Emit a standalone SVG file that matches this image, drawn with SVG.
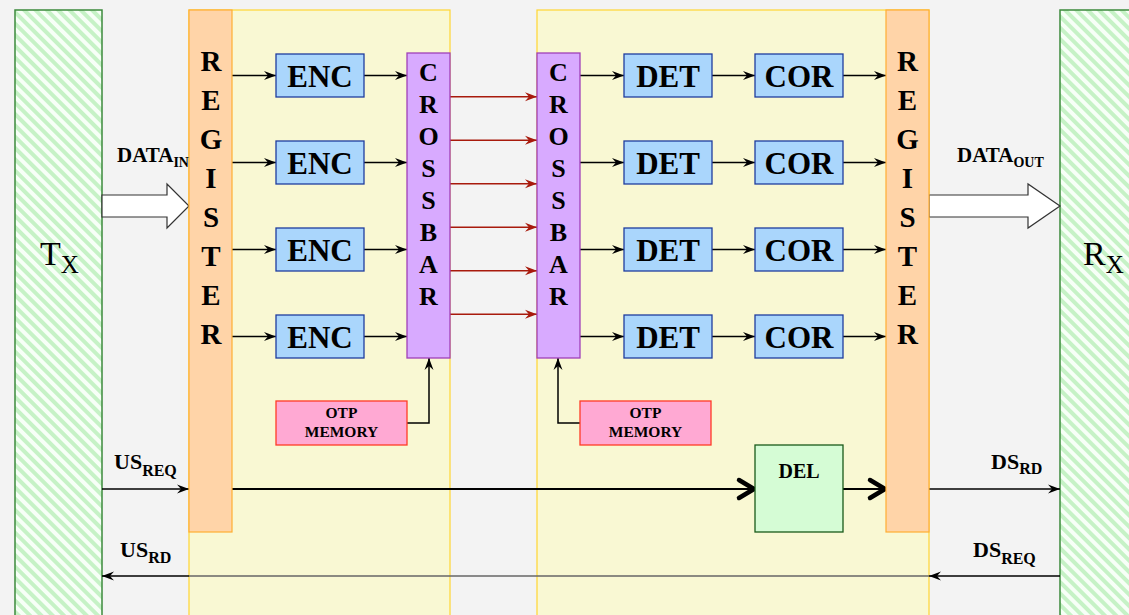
<svg xmlns="http://www.w3.org/2000/svg" width="1129" height="615" viewBox="0 0 1129 615">
<defs>
<pattern id="hatch" patternUnits="userSpaceOnUse" width="8" height="8" patternTransform="rotate(-45)">
<rect width="8" height="8" fill="#f7fff7"/>
<rect width="4" height="8" fill="#c6f2c6"/>
</pattern>
<marker id="arr" viewBox="0 0 12 10" refX="12" refY="5" markerWidth="12" markerHeight="10" markerUnits="userSpaceOnUse" orient="auto">
<path d="M0,0.5 L12,5 L0,9.5 L4,5 z" fill="#000"/>
</marker>
<marker id="arrRed" viewBox="0 0 12 10" refX="12" refY="5" markerWidth="12" markerHeight="10" markerUnits="userSpaceOnUse" orient="auto">
<path d="M0,0.5 L12,5 L0,9.5 L4,5 z" fill="#a81a0c"/>
</marker>
<marker id="chev" viewBox="0 0 24 26" refX="21" refY="13" markerWidth="24" markerHeight="26" markerUnits="userSpaceOnUse" orient="auto">
<path d="M5,4 L20,13 L5,22" fill="none" stroke="#000" stroke-width="4.5" stroke-linecap="round" stroke-linejoin="round"/>
</marker>
</defs>
<style>
text{font-family:"Liberation Serif","Times New Roman",serif;font-weight:bold;fill:#000}
.end{fill:url(#hatch);stroke:#3d8b3d;stroke-width:1.5}
.panel{fill:#f9f8d3;stroke:#ffd633;stroke-width:1.2}
.reg{fill:#ffd4a8;stroke:#ffad33;stroke-width:1.2}
.blk{fill:#aad6fc;stroke:#1f3c9e;stroke-width:1.3}
.xb{fill:#d8aaff;stroke:#a040b8;stroke-width:1.3}
.otp{fill:#ffa9d3;stroke:#ff3b26;stroke-width:1.3}
.del{fill:#d5fcd5;stroke:#1a5a1a;stroke-width:1.3}
.regt{font-size:29px;text-anchor:middle}
.xbt{font-size:26px;text-anchor:middle}
.bt{font-size:31px;text-anchor:middle}
.ot{font-size:15.5px;text-anchor:middle}
.big{font-family:"Liberation Serif","Times New Roman",serif;font-weight:normal;font-size:34px}
.c{fill:none;stroke:#000;stroke-width:1.5}
.a{marker-end:url(#arr)}
.r{fill:none;stroke:#a81a0c;stroke-width:1.5;marker-end:url(#arrRed)}
.ch{fill:none;stroke:#000;stroke-width:2;marker-end:url(#chev)}
.lbl{font-size:22px}
.sub{font-size:16px}
.dl{font-size:21px}
.ds{font-size:14px}
.hollow{fill:#fff;stroke:#333;stroke-width:1.2}
</style>
<rect width="1129" height="615" fill="#f3f3f3"/>

<g id="panel-left"><rect class="panel" x="189" y="10" width="261" height="620"/></g>
<g id="panel-right"><rect class="panel" x="537" y="10" width="392" height="620"/></g>

<g id="tx"><rect class="end" x="15" y="10" width="87" height="620"/>
<text class="big" x="40" y="265">T<tspan font-size="25" dy="8">X</tspan></text></g>
<g id="rx"><rect class="end" x="1060" y="10" width="90" height="620"/>
<text class="big" x="1083" y="265">R<tspan font-size="25" dy="8">X</tspan></text></g>

<g id="connectors">
<line class="c a" x1="232" y1="75.5" x2="276" y2="75.5"/>
<line class="c a" x1="232" y1="162.5" x2="276" y2="162.5"/>
<line class="c a" x1="232" y1="249.5" x2="276" y2="249.5"/>
<line class="c a" x1="232" y1="336.5" x2="276" y2="336.5"/>
<line class="c a" x1="364" y1="75.5" x2="407" y2="75.5"/>
<line class="c a" x1="364" y1="162.5" x2="407" y2="162.5"/>
<line class="c a" x1="364" y1="249.5" x2="407" y2="249.5"/>
<line class="c a" x1="364" y1="336.5" x2="407" y2="336.5"/>
<line class="r" x1="450" y1="96.7" x2="537" y2="96.7"/>
<line class="r" x1="450" y1="140.2" x2="537" y2="140.2"/>
<line class="r" x1="450" y1="183.7" x2="537" y2="183.7"/>
<line class="r" x1="450" y1="227.2" x2="537" y2="227.2"/>
<line class="r" x1="450" y1="270.7" x2="537" y2="270.7"/>
<line class="r" x1="450" y1="314.2" x2="537" y2="314.2"/>
<line class="c a" x1="580" y1="75.5" x2="624" y2="75.5"/>
<line class="c a" x1="580" y1="162.5" x2="624" y2="162.5"/>
<line class="c a" x1="580" y1="249.5" x2="624" y2="249.5"/>
<line class="c a" x1="580" y1="336.5" x2="624" y2="336.5"/>
<line class="c a" x1="712" y1="75.5" x2="755" y2="75.5"/>
<line class="c a" x1="712" y1="162.5" x2="755" y2="162.5"/>
<line class="c a" x1="712" y1="249.5" x2="755" y2="249.5"/>
<line class="c a" x1="712" y1="336.5" x2="755" y2="336.5"/>
<line class="c a" x1="843" y1="75.5" x2="886" y2="75.5"/>
<line class="c a" x1="843" y1="162.5" x2="886" y2="162.5"/>
<line class="c a" x1="843" y1="249.5" x2="886" y2="249.5"/>
<line class="c a" x1="843" y1="336.5" x2="886" y2="336.5"/>
<polyline class="c a" points="407,423 429,423 429,358"/>
<polyline class="c a" points="580,423 558,423 558,358"/>
<polygon class="hollow" points="102,195 167,195 167,184 189,206 167,228 167,217 102,217"/>
<polygon class="hollow" points="929,195 1028,195 1028,184 1060,206 1028,228 1028,217 929,217"/>
<line class="c a" x1="102" y1="489" x2="189" y2="489"/>
<line class="ch" x1="232" y1="489" x2="755" y2="489"/>
<line class="ch" x1="843" y1="489" x2="886" y2="489"/>
<line class="c a" x1="929" y1="489" x2="1060" y2="489"/>
<line class="c a" x1="1060" y1="576" x2="929" y2="576"/>
<line x1="929" y1="576" x2="189" y2="576" stroke="#666" stroke-width="1.5"/>
<line class="c a" x1="189" y1="576" x2="102" y2="576"/>
</g>

<g id="register-left"><rect class="reg" x="189" y="10" width="43" height="522"/>
<text class="regt" x="211" y="71">R</text><text class="regt" x="211" y="110">E</text><text class="regt" x="211" y="149">G</text><text class="regt" x="211" y="188">I</text><text class="regt" x="211" y="227">S</text><text class="regt" x="211" y="266">T</text><text class="regt" x="211" y="305">E</text><text class="regt" x="211" y="344">R</text></g>

<g id="register-right"><rect class="reg" x="886" y="10" width="43" height="522"/>
<text class="regt" x="907.5" y="71">R</text><text class="regt" x="907.5" y="110">E</text><text class="regt" x="907.5" y="149">G</text><text class="regt" x="907.5" y="188">I</text><text class="regt" x="907.5" y="227">S</text><text class="regt" x="907.5" y="266">T</text><text class="regt" x="907.5" y="305">E</text><text class="regt" x="907.5" y="344">R</text></g>

<g id="enc1"><rect class="blk" x="276" y="54" width="88" height="43"/><text class="bt" x="320" y="86.5">ENC</text></g>
<g id="enc2"><rect class="blk" x="276" y="141" width="88" height="43"/><text class="bt" x="320" y="173.5">ENC</text></g>
<g id="enc3"><rect class="blk" x="276" y="228" width="88" height="43"/><text class="bt" x="320" y="260.5">ENC</text></g>
<g id="enc4"><rect class="blk" x="276" y="315" width="88" height="43"/><text class="bt" x="320" y="347.5">ENC</text></g>

<g id="det1"><rect class="blk" x="624" y="54" width="88" height="43"/><text class="bt" x="668" y="86.5">DET</text></g>
<g id="det2"><rect class="blk" x="624" y="141" width="88" height="43"/><text class="bt" x="668" y="173.5">DET</text></g>
<g id="det3"><rect class="blk" x="624" y="228" width="88" height="43"/><text class="bt" x="668" y="260.5">DET</text></g>
<g id="det4"><rect class="blk" x="624" y="315" width="88" height="43"/><text class="bt" x="668" y="347.5">DET</text></g>

<g id="cor1"><rect class="blk" x="755" y="54" width="88" height="43"/><text class="bt" x="799" y="86.5">COR</text></g>
<g id="cor2"><rect class="blk" x="755" y="141" width="88" height="43"/><text class="bt" x="799" y="173.5">COR</text></g>
<g id="cor3"><rect class="blk" x="755" y="228" width="88" height="43"/><text class="bt" x="799" y="260.5">COR</text></g>
<g id="cor4"><rect class="blk" x="755" y="315" width="88" height="43"/><text class="bt" x="799" y="347.5">COR</text></g>

<g id="crossbar-left"><rect class="xb" x="407" y="53" width="43" height="305"/>
<text class="xbt" x="428.5" y="81">C</text><text class="xbt" x="428.5" y="113">R</text><text class="xbt" x="428.5" y="145">O</text><text class="xbt" x="428.5" y="177">S</text><text class="xbt" x="428.5" y="209">S</text><text class="xbt" x="428.5" y="241">B</text><text class="xbt" x="428.5" y="273">A</text><text class="xbt" x="428.5" y="305">R</text></g>

<g id="crossbar-right"><rect class="xb" x="537" y="53" width="43" height="305"/>
<text class="xbt" x="558.5" y="81">C</text><text class="xbt" x="558.5" y="113">R</text><text class="xbt" x="558.5" y="145">O</text><text class="xbt" x="558.5" y="177">S</text><text class="xbt" x="558.5" y="209">S</text><text class="xbt" x="558.5" y="241">B</text><text class="xbt" x="558.5" y="273">A</text><text class="xbt" x="558.5" y="305">R</text></g>

<g id="otp-left"><rect class="otp" x="276" y="401" width="131" height="44"/>
<text class="ot" x="341.5" y="418">OTP</text><text class="ot" x="341.5" y="437">MEMORY</text></g>
<g id="otp-right"><rect class="otp" x="580" y="401" width="131" height="44"/>
<text class="ot" x="645.5" y="418">OTP</text><text class="ot" x="645.5" y="437">MEMORY</text></g>

<g id="del"><rect class="del" x="755" y="445" width="88" height="87"/>
<text x="799" y="478" font-size="20" text-anchor="middle">DEL</text></g>

<g id="labels">
<text class="dl" x="117" y="162">DATA<tspan class="ds" dy="5">IN</tspan></text>
<text class="dl" x="957" y="162">DATA<tspan class="ds" dy="5">OUT</tspan></text>
<text class="lbl" x="114" y="469">US<tspan class="sub" dy="7">REQ</tspan></text>
<text class="lbl" x="120" y="557">US<tspan class="sub" dy="6">RD</tspan></text>
<text class="lbl" x="991" y="469">DS<tspan class="sub" dy="5">RD</tspan></text>
<text class="lbl" x="973" y="557">DS<tspan class="sub" dy="7">REQ</tspan></text>
</g>
</svg>
